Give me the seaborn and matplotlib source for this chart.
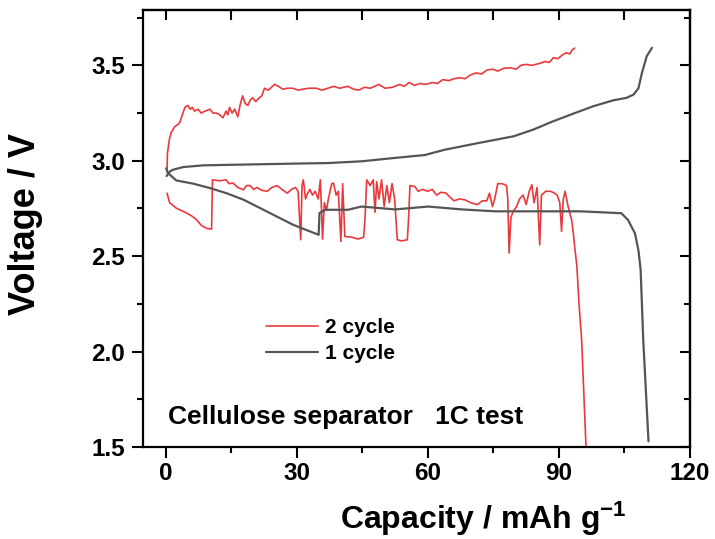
import numpy as np
import pandas as pd
import seaborn as sns
import matplotlib.pyplot as plt
from matplotlib.ticker import MultipleLocator

# 2 cycle charge (capacity mAh/g, voltage V)
red_charge_x = [0.3, 0.3, 0.4, 0.9, 1.3, 2.1, 2.8, 3.2, 3.8, 4.4, 5.1, 5.6, 6.1, 6.6, 7.4, 8.1, 9.0, 10.1,
                10.8, 11.6, 12.4, 13.1, 13.8, 14.2, 14.6, 15.2, 15.8, 16.5, 17.0, 17.6, 18.2, 18.8, 19.4,
                19.9, 20.6, 21.4, 22.0, 22.6, 23.5, 24.9, 25.8, 26.8, 27.8, 29.1, 30.3, 31.4, 32.8, 34.5,
                35.8, 37.1, 38.5, 39.8, 41.7, 43.0, 44.2, 45.5, 46.8, 48.8, 50.2, 51.9, 53.5, 54.6, 55.7,
                57.0, 58.2, 59.5, 61.0, 62.2, 63.4, 64.8, 66.0, 67.2, 68.5, 69.8, 71.0, 72.3, 73.5, 74.8,
                76.0, 77.4, 79.0, 80.2, 81.3, 82.5, 83.8, 85.6, 86.8, 87.8, 88.7, 89.8, 90.8, 91.7, 92.5,
                93.0, 93.6]
red_charge_y = [2.92, 2.98, 3.04, 3.12, 3.15, 3.18, 3.19, 3.20, 3.24, 3.28, 3.29, 3.27, 3.28, 3.26, 3.27,
                3.25, 3.26, 3.27, 3.25, 3.25, 3.24, 3.225, 3.26, 3.24, 3.28, 3.25, 3.27, 3.23, 3.29, 3.34,
                3.30, 3.29, 3.32, 3.33, 3.31, 3.33, 3.34, 3.38, 3.37, 3.40, 3.39, 3.375, 3.38, 3.38, 3.37,
                3.375, 3.38, 3.38, 3.37, 3.38, 3.39, 3.38, 3.39, 3.375, 3.37, 3.385, 3.38, 3.40, 3.38,
                3.385, 3.40, 3.39, 3.41, 3.395, 3.405, 3.40, 3.41, 3.405, 3.425, 3.42, 3.43, 3.435, 3.43,
                3.45, 3.46, 3.455, 3.475, 3.48, 3.47, 3.485, 3.487, 3.48, 3.50, 3.505, 3.50, 3.51, 3.52,
                3.515, 3.54, 3.535, 3.555, 3.566, 3.56, 3.58, 3.59]

# 2 cycle discharge
red_dis_x = [0.3, 0.9, 2.4, 3.5, 4.8, 6.0, 7.1, 8.0, 8.6, 9.5, 10.5, 10.7, 12.4, 13.8, 14.5, 15.4, 16.5,
             17.8, 18.5, 19.3, 20.1, 20.9, 22.0, 23.2, 24.3, 25.5, 26.6, 27.8, 28.8, 29.7, 30.3, 30.9,
             31.2, 31.5, 32.0, 32.4, 33.0, 33.6, 34.2, 34.9, 35.4, 35.9, 36.3, 36.8, 37.2, 38.0, 38.4,
             39.0, 39.5, 40.1, 40.5, 41.0, 42.5, 44.0, 44.8, 45.3, 45.6, 46.0, 46.8, 47.5, 47.9, 48.3,
             48.8, 49.4, 50.0, 50.6, 51.2, 51.8, 52.4, 53.0, 54.0, 55.3, 55.6, 55.9, 57.0, 57.8, 58.8,
             60.0, 61.0, 62.0, 63.0, 64.2, 65.0, 66.0, 67.2, 68.5, 69.8, 71.3, 72.5, 73.5, 74.1, 74.8,
             75.3, 76.0, 77.0, 78.0, 78.3, 78.6, 79.0, 79.5, 80.3, 81.0, 81.8, 82.5, 83.2, 83.8, 84.3,
             85.0, 85.6, 86.0, 87.0, 88.1, 89.0, 89.6, 90.2, 90.6, 91.0, 91.4, 92.1, 92.9, 93.3, 93.6,
             94.1, 94.6, 95.2, 95.7, 96.2]
red_dis_y = [2.83, 2.78, 2.752, 2.74, 2.726, 2.71, 2.69, 2.665, 2.655, 2.645, 2.642, 2.90, 2.895, 2.90,
             2.88, 2.883, 2.86, 2.848, 2.87, 2.87, 2.85, 2.86, 2.845, 2.84, 2.86, 2.87, 2.85, 2.83, 2.85,
             2.86, 2.84, 2.586, 2.87, 2.90, 2.80, 2.825, 2.85, 2.82, 2.84, 2.80, 2.90, 2.59, 2.78, 2.74,
             2.796, 2.88, 2.883, 2.82, 2.84, 2.577, 2.88, 2.603, 2.60, 2.59, 2.595, 2.60, 2.69, 2.90,
             2.87, 2.90, 2.73, 2.89, 2.80, 2.90, 2.76, 2.87, 2.78, 2.88, 2.80, 2.586, 2.58, 2.586, 2.70,
             2.87, 2.865, 2.84, 2.85, 2.84, 2.85, 2.82, 2.835, 2.83, 2.81, 2.79, 2.80, 2.795, 2.78, 2.77,
             2.79, 2.79, 2.83, 2.76, 2.80, 2.88, 2.88, 2.87, 2.80, 2.516, 2.70, 2.734, 2.76, 2.80, 2.82,
             2.77, 2.84, 2.874, 2.78, 2.86, 2.559, 2.82, 2.84, 2.84, 2.83, 2.82, 2.78, 2.63, 2.80, 2.84,
             2.76, 2.69, 2.62, 2.55, 2.45, 2.25, 2.06, 1.78, 1.5]

# 1 cycle charge
gray_charge_x = [0.2, 1.0, 1.7, 4.0, 8.6, 17.8, 29.3, 37.2, 44.8, 52.5, 59.3, 63.9, 71.6, 79.6, 84.1,
                 88.7, 93.3, 97.9, 102.5, 105.5, 107.1, 108.2, 109.0, 110.1, 111.3]
gray_charge_y = [2.92, 2.945, 2.953, 2.967, 2.976, 2.98, 2.985, 2.988, 2.997, 3.015, 3.03, 3.058, 3.093,
                 3.128, 3.163, 3.207, 3.247, 3.286, 3.317, 3.33, 3.347, 3.38, 3.46, 3.548, 3.592]

# 1 cycle discharge
gray_dis_x = [0.1, 0.5, 2.4, 6.3, 10.1, 13.9, 17.8, 21.6, 25.4, 29.2, 33.1, 35.0, 35.2, 36.5, 41.7, 44.8,
              52.5, 60.1, 67.8, 75.4, 85.0, 95.0, 104.3, 105.8, 107.4, 108.2, 108.7, 109.3, 110.5]
gray_dis_y = [2.96, 2.936, 2.897, 2.88, 2.857, 2.83, 2.796, 2.752, 2.708, 2.664, 2.629, 2.612, 2.726,
              2.743, 2.743, 2.76, 2.745, 2.76, 2.745, 2.735, 2.735, 2.735, 2.725, 2.69, 2.62, 2.53, 2.43,
              2.06, 1.53]

red = '#e8393d'
gray = '#555555'

sns.set_style("ticks")
plt.rcParams['font.family'] = ['Liberation Sans', 'DejaVu Sans']
plt.rcParams['font.weight'] = 'bold'
plt.rcParams['mathtext.fontset'] = 'custom'
plt.rcParams['mathtext.rm'] = 'Liberation Sans:bold'
plt.rcParams['mathtext.bf'] = 'Liberation Sans:bold'
plt.rcParams['mathtext.default'] = 'bf'
for k in ['text.color', 'axes.labelcolor', 'xtick.color', 'ytick.color']:
    plt.rcParams[k] = 'black'

fig = plt.figure(figsize=(7.15, 5.39), dpi=100)
ax = fig.add_axes([143 / 715, 92 / 539, 547 / 715, 437 / 539])

sns.lineplot(x=red_charge_x, y=red_charge_y, sort=False, color=red, lw=1.2, ax=ax, label='2 cycle')
sns.lineplot(x=red_dis_x, y=red_dis_y, sort=False, color=red, lw=1.2, ax=ax)
sns.lineplot(x=gray_charge_x, y=gray_charge_y, sort=False, color=gray, lw=1.6, ax=ax, label='1 cycle')
sns.lineplot(x=gray_dis_x, y=gray_dis_y, sort=False, color=gray, lw=1.6, ax=ax)

ax.set_xlim(-5.2, 120)
ax.set_ylim(1.5, 3.79)
ax.xaxis.set_major_locator(MultipleLocator(30))
ax.xaxis.set_minor_locator(MultipleLocator(15))
ax.yaxis.set_major_locator(MultipleLocator(0.5))
ax.yaxis.set_minor_locator(MultipleLocator(0.25))
ax.yaxis.set_major_formatter(plt.FormatStrFormatter('%.1f'))

for s in ax.spines.values():
    s.set_linewidth(1.6)
    s.set_color('black')

ax.tick_params(which='both', direction='out', width=1.5, labelsize=17.5, top=False, right=False)
ax.tick_params(which='major', length=8)
ax.tick_params(which='minor', length=4)
ax.tick_params(axis='x', pad=3)
ax.tick_params(axis='y', pad=5)

# inward ticks on top and right
sec_x = ax.secondary_xaxis('top')
sec_x.xaxis.set_major_locator(MultipleLocator(15))
sec_x.tick_params(direction='in', length=7, width=1.5, labeltop=False)
sec_y = ax.secondary_yaxis('right')
sec_y.yaxis.set_major_locator(MultipleLocator(0.5))
sec_y.yaxis.set_minor_locator(MultipleLocator(0.25))
sec_y.tick_params(which='major', direction='in', length=7, width=1.5, labelright=False)
sec_y.tick_params(which='minor', direction='in', length=4, width=1.5)
sec_x.spines['top'].set_linewidth(1.6)
sec_y.spines['right'].set_linewidth(1.6)

ax.set_xlabel('Capacity / mAh g$^{-1}$', fontsize=23, fontweight='bold', va='center')
ax.set_ylabel('Voltage / V', fontsize=26, fontweight='bold', va='center')
ax.xaxis.set_label_coords(0.622, -0.165)
ax.yaxis.set_label_coords(-0.214, 0.51)

ax.legend(loc='center left', bbox_to_anchor=(0.2249, 0.2437), frameon=False, fontsize=15,
          handlelength=2.5, handletextpad=0.35, labelspacing=0.35, borderpad=0, borderaxespad=0)

ax.text(0.55, 1.656, 'Cellulose separator   1C test', fontsize=19, fontweight='bold',
        ha='left', va='center')

fig.savefig('out.png', dpi=100)
